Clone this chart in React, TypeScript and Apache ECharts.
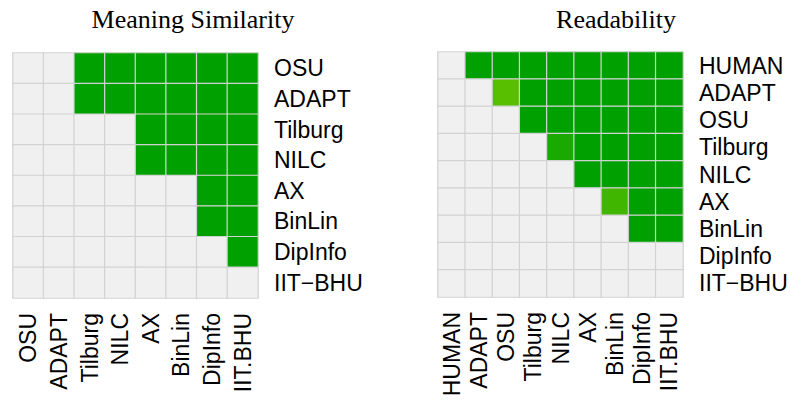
import React, { useEffect, useRef } from "react";
import * as echarts from "echarts";

// Meaning Similarity panel
const msRows = ["OSU", "ADAPT", "Tilburg", "NILC", "AX", "BinLin", "DipInfo", "IIT−BHU"];
const msCols = ["OSU", "ADAPT", "Tilburg", "NILC", "AX", "BinLin", "DipInfo", "IIT.BHU"];
// significance strength (0 = not significant, 1 = strongest)
const msValues: number[][] = [
  [0, 0, 1, 1, 1, 1, 1, 1],
  [0, 0, 1, 1, 1, 1, 1, 1],
  [0, 0, 0, 0, 1, 1, 1, 1],
  [0, 0, 0, 0, 1, 1, 1, 1],
  [0, 0, 0, 0, 0, 0, 1, 1],
  [0, 0, 0, 0, 0, 0, 1, 1],
  [0, 0, 0, 0, 0, 0, 0, 1],
  [0, 0, 0, 0, 0, 0, 0, 0],
];

// Readability panel
const rdRows = ["HUMAN", "ADAPT", "OSU", "Tilburg", "NILC", "AX", "BinLin", "DipInfo", "IIT−BHU"];
const rdCols = ["HUMAN", "ADAPT", "OSU", "Tilburg", "NILC", "AX", "BinLin", "DipInfo", "IIT.BHU"];
const rdValues: number[][] = [
  [0, 1, 1, 1, 1, 1, 1, 1, 1],
  [0, 0, 0.05, 1, 1, 1, 1, 1, 1],
  [0, 0, 0, 1, 1, 1, 1, 1, 1],
  [0, 0, 0, 0, 0.72, 1, 1, 1, 1],
  [0, 0, 0, 0, 0, 1, 1, 1, 1],
  [0, 0, 0, 0, 0, 0, 0.31, 1, 1],
  [0, 0, 0, 0, 0, 0, 0, 1, 1],
  [0, 0, 0, 0, 0, 0, 0, 0, 0],
  [0, 0, 0, 0, 0, 0, 0, 0, 0],
];

const titles = ["Meaning Similarity", "Readability"];

function cellColor(v: number): string {
  if (v <= 0) return "#F0F0F0";
  return echarts.color.lerp(v, ["#5DC000", "#00A000"]) as string;
}

function toData(values: number[][]) {
  const out: number[][] = [];
  values.forEach((row, r) => row.forEach((v, c) => out.push([c, r, v])));
  return out;
}

export default function App() {
  const ref = useRef<HTMLDivElement>(null);
  useEffect(() => {
    document.body.style.margin = "0";
    const chart = echarts.init(ref.current!, null, { renderer: "svg" });
    const labelFont = {
      fontFamily: "Liberation Sans, Arial, sans-serif",
      fontSize: 23,
      color: "#000",
    };
    const titleFont = {
      fontFamily: "Liberation Serif, Times New Roman, serif",
      fontSize: 26,
      fontWeight: "normal" as const,
      color: "#000",
    };
    const uniq = Array.from(new Set([...msValues.flat(), ...rdValues.flat()])).sort();
    const pieces = uniq.map((v) => ({ value: v, color: cellColor(v) }));
    const xAxisBase = (cols: string[], gridIndex: number) => ({
      type: "category" as const,
      data: cols,
      gridIndex,
      position: "bottom" as const,
      axisLine: { show: false },
      axisTick: { show: false },
      splitLine: { show: false },
      splitArea: { show: false },
      axisLabel: { ...labelFont, rotate: 90, margin: 15, interval: 0 },
    });
    const yAxisBase = (rows: string[], gridIndex: number) => ({
      type: "category" as const,
      data: rows,
      gridIndex,
      inverse: true,
      position: "right" as const,
      axisLine: { show: false },
      axisTick: { show: false },
      splitLine: { show: false },
      splitArea: { show: false },
      axisLabel: { ...labelFont, margin: 16, interval: 0 },
    });
    chart.setOption({
      animation: false,
      backgroundColor: "#fff",
      title: [
        { text: titles[0], left: 188, top: 1, textAlign: "center", textStyle: titleFont },
        { text: titles[1], left: 611, top: 1, textAlign: "center", textStyle: titleFont },
      ],
      visualMap: {
        type: "piecewise",
        show: false,
        dimension: 2,
        seriesIndex: [0, 1],
        pieces,
      },
      grid: [
        { left: 13, top: 53, width: 245, height: 245 },
        { left: 438, top: 52, width: 245, height: 245 },
      ],
      xAxis: [xAxisBase(msCols, 0), xAxisBase(rdCols, 1)],
      yAxis: [yAxisBase(msRows, 0), yAxisBase(rdRows, 1)],
      series: [
        {
          type: "heatmap",
          xAxisIndex: 0,
          yAxisIndex: 0,
          data: toData(msValues),
          itemStyle: { borderColor: "#D2D2D2", borderWidth: 1.2 },
          emphasis: { disabled: true },
        },
        {
          type: "heatmap",
          xAxisIndex: 1,
          yAxisIndex: 1,
          data: toData(rdValues),
          itemStyle: { borderColor: "#D2D2D2", borderWidth: 1.2 },
          emphasis: { disabled: true },
        },
      ],
    });
    return () => chart.dispose();
  }, []);
  return <div ref={ref} style={{ width: 791, height: 405 }} />;
}
